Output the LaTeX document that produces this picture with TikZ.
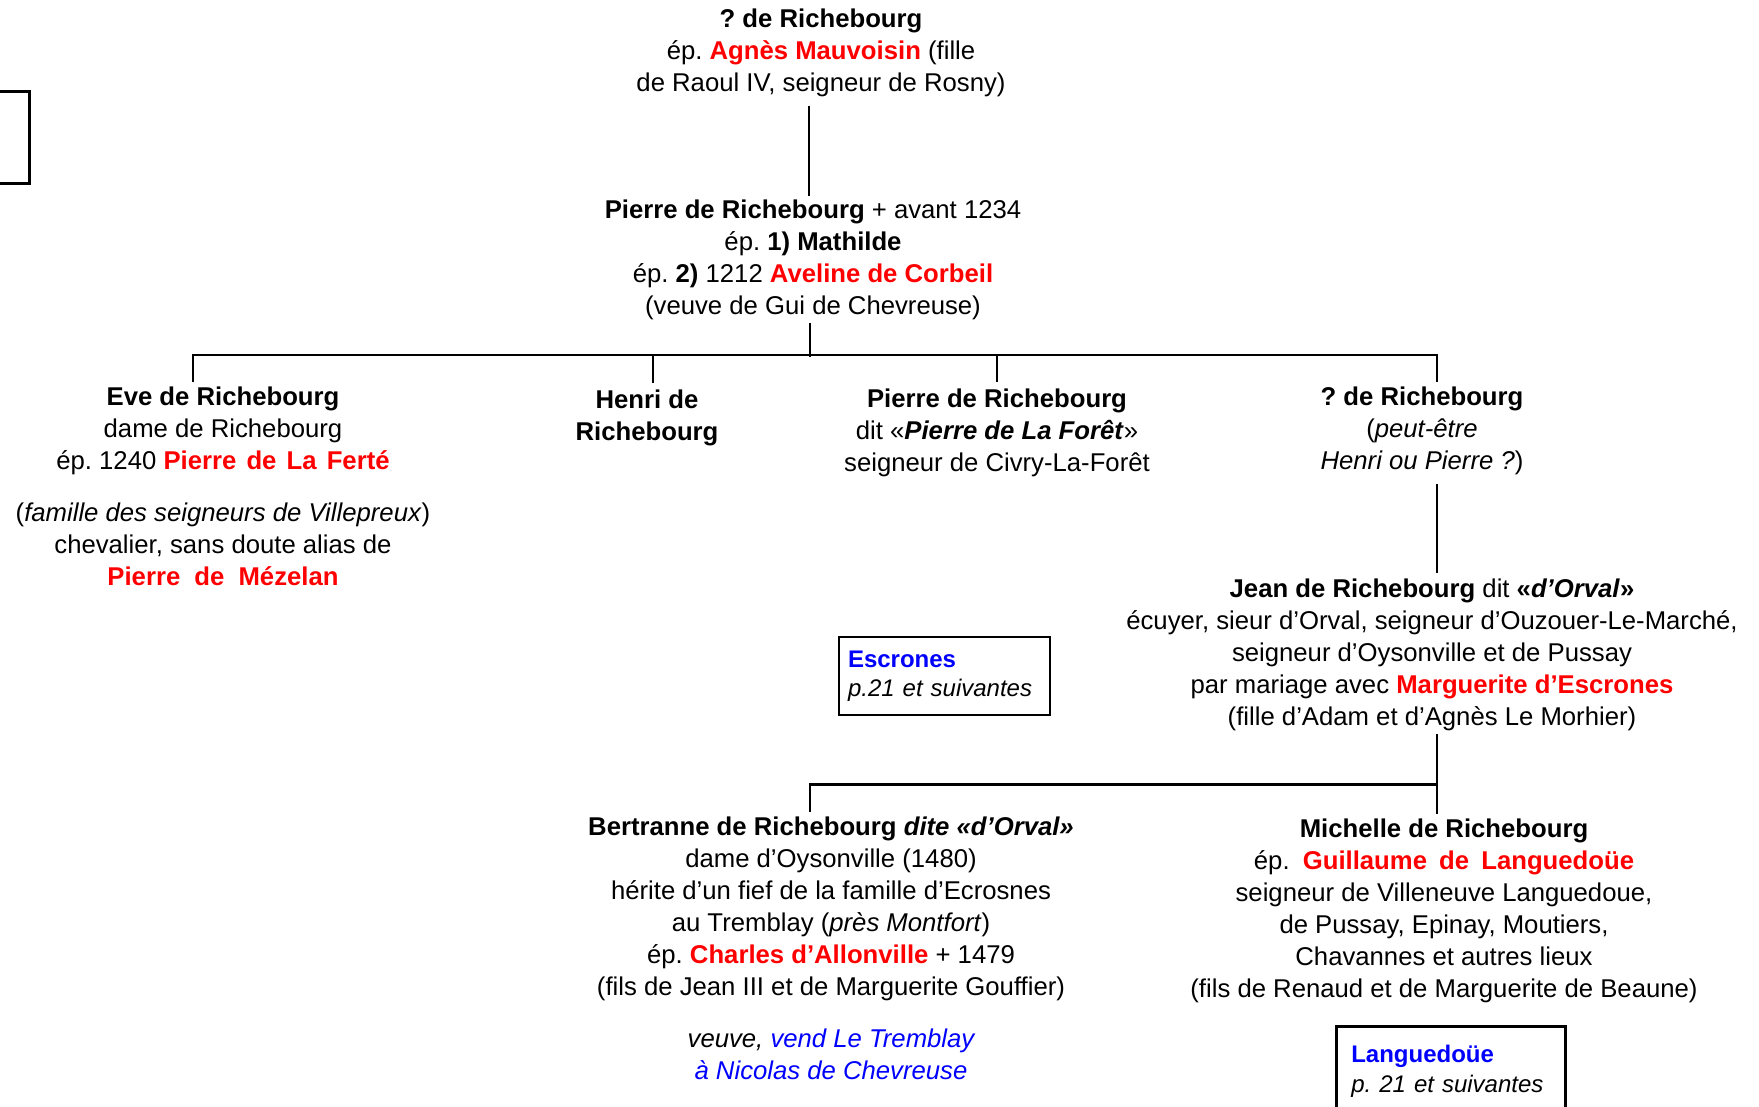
\documentclass[tikz,border=0pt]{standalone}
\usepackage{fontspec}
\setmainfont{Liberation Sans}
\usetikzlibrary{calc}
\frenchspacing
\definecolor{namered}{RGB}{255,0,0}
\definecolor{refblue}{RGB}{0,0,255}
\newcommand{\famtext}{\fontsize{25.7pt}{32pt}\selectfont}
\newcommand{\reftext}{\fontsize{24pt}{29.5pt}\selectfont}
\newcommand{\rd}[1]{\textcolor{namered}{\textbf{#1}}}
\newcommand{\bl}[1]{\textcolor{refblue}{#1}}
\tikzset{
  person/.style={align=center, inner sep=0pt, font=\famtext},
  link/.style={line width=2.6pt, line cap=rect, line join=miter},
  refbox/.style={draw, line width=2.6pt, align=left, inner xsep=9pt, inner ysep=0pt, font=\reftext}
}
\begin{document}
\begin{tikzpicture}[x=1pt, y=-1pt]
\clip (0,0) rectangle (1759,1106);
\fill[white] (0,0) rectangle (1759,1106);

% generation I
\node[person] (top) at (821,53.4) {\strut\textbf{? de Richebourg}\\
  ép. \rd{Agnès Mauvoisin} (fille\\
  de Raoul IV, seigneur de Rosny)\strut};

% generation II
\node[person] (pierre) at (813,259.6) {\strut\textbf{Pierre de Richebourg} + avant 1234\\
  ép. \textbf{1) Mathilde}\\
  ép. \textbf{2)} 1212 \rd{Aveline de Corbeil}\\
  (veuve de Gui de Chevreuse)\strut};

% generation III
\node[person] (eve) at (223,488.9) {\strut\textbf{Eve de Richebourg}\\
  dame de Richebourg\\
  ép. 1240 \rd{Pierre\hspace{3pt} de\hspace{3pt} La\hspace{3pt} Ferté}\\[20pt]
  (\textit{famille des seigneurs de Villepreux})\\
  chevalier, sans doute alias de\\
  \rd{Pierre\hspace{7pt} de\hspace{7pt} Mézelan}\strut};

\node[person] (henri) at (647,417.6) {\strut\textbf{Henri de}\\ \textbf{Richebourg}\strut};

\node[person] (pierre2) at (997,433) {\strut\textbf{Pierre de Richebourg}\\
  dit «\textbf{\textit{Pierre de La Forêt}}»\\
  seigneur de Civry-La-Forêt\strut};

\node[person] (q) at (1422,431) {\strut\textbf{? de Richebourg}\\
  (\textit{peut-être}\\
  \textit{Henri ou Pierre ?})\strut};

% generation IV
\node[person] (jean) at (1432,655) {\strut\textbf{Jean de Richebourg} dit \textbf{«\textit{d’Orval}»}\\
  écuyer, sieur d’Orval, seigneur d’Ouzouer-Le-Marché,\\
  seigneur d’Oysonville et de Pussay\\
  par mariage avec \rd{Marguerite d’Escrones}\\
  (fille d’Adam et d’Agnès Le Morhier)\strut};

% generation V
\node[person] (bertranne) at (831,950.6) {\strut\textbf{Bertranne de Richebourg} \textbf{\textit{dite «d’Orval»}}\\
  dame d’Oysonville (1480)\\
  hérite d’un fief de la famille d’Ecrosnes\\
  au Tremblay (\textit{près Montfort})\\
  ép. \rd{Charles d’Allonville} + 1479\\
  (fils de Jean III et de Marguerite Gouffier)\\[20pt]
  \textit{veuve, \bl{vend Le Tremblay}}\\
  \textit{\bl{à Nicolas de Chevreuse}}\strut};

\node[person] (michelle) at (1444,910.6) {\strut\textbf{Michelle de Richebourg}\\
  ép.\hspace{6pt} \rd{Guillaume\hspace{5pt} de\hspace{5pt} Languedoüe}\\
  seigneur de Villeneuve Languedoue,\\
  de Pussay, Epinay, Moutiers,\\
  Chavannes et autres lieux\\
  (fils de Renaud et de Marguerite de Beaune)\strut};

% reference boxes
\node[refbox, text width=193pt, minimum height=78pt] (escrones) at (944.5,676)
  {\strut\bl{\textbf{Escrones}}\\ \textit{p.21 et suivantes}\strut};
\node[refbox, anchor=north west, text width=199pt, inner xsep=15pt, inner ysep=16pt] (langbox) at (1335,1025)
  {\strut\bl{\textbf{Languedoüe}}\\ \textit{p. 21 et suivantes}\strut\\[10pt]};
\node[draw, line width=2.6pt, anchor=north east, minimum width=60pt, minimum height=92pt, inner sep=0pt] (stub) at (31,90) {};

% descent lines
\draw[link] ($(top.south)+(-12,6)$) -- ($(pierre.north)+(-4,-1)$);
\draw[link] ($(pierre.south)+(-3,0)$) -- ++(0,32) coordinate (fork);
\draw[link] ($(eve.north)+(-30,-2)$) |- ($(q.north)+(15,-28)$) -- ($(q.north)+(15,-2)$);
\draw[link] ($(henri.north)+(6,-4)$) -- ++(0,-26);
\draw[link] ($(pierre2.north)+(0,-4)$) -- ++(0,-26);
\draw[link] ($(q.south)+(15,6)$) -- ($(jean.north)+(5,-3)$);
\draw[link] ($(jean.south)+(5,0)$) -- ($(michelle.north)+(-7,-2)$);
\draw[link] ($(bertranne.north)+(-21,-2)$) |- ($(jean.south)+(5,49.4)$);
\end{tikzpicture}
\end{document}
